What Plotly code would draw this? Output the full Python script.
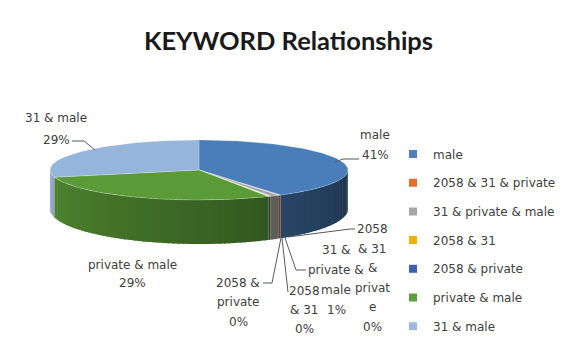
import numpy as np
import plotly.graph_objects as go

# ---------------- data ----------------
categories = ["male", "2058 & 31 & private", "31 & private & male", "2058 & 31",
              "2058 & private", "private & male", "31 & male"]
values = [41.0, 0.2, 1.0, 0.1, 0.2, 29.0, 29.0]
colors = ["#4A7EBB", "#E46C2F", "#A5A5A5", "#EDB100", "#3C62B0", "#5A9A37", "#96B5DA"]
legend_colors = ["#4F81BD", "#E46C2F", "#A5A5A5", "#EDB100", "#3C62B0", "#5E9E3C", "#9BBBE0"]

# label line breaks as in the chart
label_lines = {
    "male": ["male"],
    "2058 & 31 & private": ["2058", "& 31", "&", "privat", "e"],
    "31 & private & male": ["31 &", "private &", "male"],
    "2058 & 31": ["2058", "& 31"],
    "2058 & private": ["2058 &", "private"],
    "private & male": ["private & male"],
    "31 & male": ["31 & male"],
}

# ---------------- layout geometry (pixels) ----------------
W, H = 577, 338
CX, CY, RX, RY = 199, 170, 149, 30
DEPTH, RY_B = 39, 35

# label centres / line spacing (layout)
label_pos = {
    "male": (375, 145, 20),
    "2058 & 31 & private": (372, 278, 19.6),
    "31 & private & male": (336, 280, 20),
    "2058 & 31": (304, 310, 19),
    "2058 & private": (238, 302, 19.5),
    "private & male": (132, 274, 18),
    "31 & male": (56, 129, 22),
}
leaders = {
    "31 & male": [(72, 141), (84, 141), (95, 150)],
    "male": [(359, 159), (343, 159), (335, 162)],
    "2058 & private": [(263, 283), (272, 283), (281, 238)],
    "2058 & 31": [(288, 292), (282, 238)],
    "31 & private & male": [(306, 270), (296, 270), (285, 238)],
    "2058 & 31 & private": [(355, 229), (350, 229), (288, 237)],
}


def hex2rgb(h):
    h = h.lstrip("#")
    return [int(h[i:i + 2], 16) for i in (0, 2, 4)]


def scale(h, f):
    r, g, b = hex2rgb(h)
    return "rgb(%d,%d,%d)" % (min(255, r * f), min(255, g * f), min(255, b * f))


def top_pt(th):
    t = np.radians(th)
    return CX + RX * np.cos(t), CY - RY * np.sin(t)


def bot_pt(th):
    t = np.radians(th)
    return CX + RX * np.cos(t), CY + DEPTH - RY_B * np.sin(t)


total = sum(values)
fracs = [v / total for v in values]
cum = np.concatenate([[0], np.cumsum(fracs)])
starts = [90 - 360 * c for c in cum[:-1]]
ends = [90 - 360 * c for c in cum[1:]]

fig = go.Figure()

# side faces (front half only), shaded in overlapping strips
for i, cat in enumerate(categories):
    a, b = ends[i], starts[i]  # a < b
    lo, hi = max(a, -180), min(b, 0)
    if hi <= lo:
        continue
    n = max(1, int(np.ceil((hi - lo) / 2.0)))
    edges = np.linspace(lo, hi, n + 1)
    for k in range(n):
        t0, t1 = edges[k], edges[k + 1]
        t1e = min(hi, t1 + 0.6)
        ts = np.linspace(t0, t1e, 4)
        xs, ys = [], []
        for t in ts:
            x, y = top_pt(t)
            xs.append(x); ys.append(y)
        for t in ts[::-1]:
            x, y = bot_pt(t)
            xs.append(x); ys.append(y)
        mid = -(t0 + t1) / 2.0
        f = 0.40 + 0.25 * (mid / 90.0)
        c = scale(colors[i], f)
        fig.add_trace(go.Scatter(x=xs, y=ys, fill="toself", mode="lines",
                                 line=dict(color=c, width=0), fillcolor=c,
                                 hoverinfo="skip", showlegend=False))

# top faces
for i, cat in enumerate(categories):
    n = max(2, int(abs(starts[i] - ends[i]) / 1.5) + 2)
    ts = np.linspace(starts[i], ends[i], n)
    xs, ys = [CX], [CY]
    for t in ts:
        x, y = top_pt(t)
        xs.append(x); ys.append(y)
    xs.append(CX); ys.append(CY)
    fig.add_trace(go.Scatter(x=xs, y=ys, fill="toself", mode="lines",
                             line=dict(color="rgba(255,255,255,0.35)", width=0.6),
                             fillcolor=colors[i], hoverinfo="skip", showlegend=False))

# legend entries
for i, cat in enumerate(categories):
    fig.add_trace(go.Scatter(x=[None], y=[None], mode="markers", name=cat,
                             legendgroup=cat,
                             marker=dict(symbol="square", size=8, color=legend_colors[i])))

# data labels
pcts = [int(round(f * 100)) for f in fracs]
annotations = []
for i, cat in enumerate(categories):
    lines = label_lines[cat] + ["%d%%" % pcts[i]]
    cx, cy, sp = label_pos[cat]
    y0 = cy - sp * (len(lines) - 1) / 2.0
    for j, ln in enumerate(lines):
        annotations.append(dict(x=cx, y=y0 + j * sp, xref="x", yref="y", text=ln,
                                showarrow=False, xanchor="center", yanchor="middle",
                                font=dict(family="DejaVu Sans", size=12, color="#404040")))

shapes = []
for cat, pts in leaders.items():
    path = "M " + " L ".join("%g,%g" % p for p in pts)
    shapes.append(dict(type="path", path=path, xref="x", yref="y",
                       line=dict(color="#595959", width=1)))

fig.update_layout(
    width=W, height=H,
    margin=dict(l=0, r=0, t=0, b=0, autoexpand=False),
    paper_bgcolor="white", plot_bgcolor="white",
    xaxis=dict(range=[0, W], visible=False, fixedrange=True),
    yaxis=dict(range=[H, 0], visible=False, fixedrange=True),
    title=dict(text="<b>KEYWORD Relationships</b>", x=0.5, xanchor="center",
               y=1 - 41 / H, yanchor="middle",
               font=dict(family="Lato", size=25.5, color="#1a1a1a")),
    showlegend=True,
    legend=dict(x=393 / W, y=1 - 139.5 / H, xanchor="left", yanchor="top",
                traceorder="grouped", tracegroupgap=9.7,
                font=dict(family="DejaVu Sans", size=12, color="#404040"),
                bgcolor="rgba(0,0,0,0)", itemclick=False, itemdoubleclick=False),
    annotations=annotations,
    shapes=shapes,
)

fig.write_html("out.html")
